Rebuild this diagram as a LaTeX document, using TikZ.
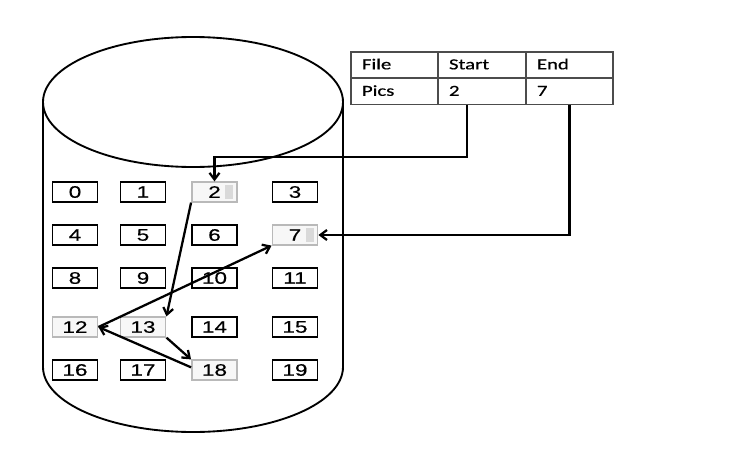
\documentclass[tikz,border=0pt]{standalone}
\usepackage{fontspec}
\setmainfont{Liberation Sans}
\newfontfamily\numfont[FakeStretch=1.35,FakeBold=0.5]{Liberation Sans}
\newfontfamily\tblfont[FakeStretch=1.35,FakeBold=0.6]{Carlito}
\usetikzlibrary{arrows.meta}
\begin{document}
\begin{tikzpicture}[x=0.75pt,y=-0.75pt,
  blk/.style={draw, line width=1.4pt, minimum width=33.75pt, minimum height=14.5pt, inner sep=0pt, font=\numfont\fontsize{12.5}{13}\selectfont},
  hl/.style={draw=gray!55, fill=gray!6},
  smudge/.style={path picture={\fill[gray!30] ([xshift=-9pt,yshift=-5pt]path picture bounding box.east) rectangle ([xshift=-3pt,yshift=5pt]path picture bounding box.east);}},
  cell/.style={draw=black!70, line width=1pt, minimum height=19.5pt, inner xsep=8.25pt, align=left, text height=8.5pt, text depth=2pt, font=\tblfont\fontsize{11.5}{12}\selectfont},
  c1/.style={cell, text width=48.75pt},
  c2/.style={cell, text width=49.5pt},
  c3/.style={cell, text width=48.75pt},
  arr/.style={line width=1.7pt, -{Straight Barb[length=5pt,width=7.5pt]}},
  cyl/.style={line width=1.4pt}
]
\useasboundingbox (0,0) rectangle (749,450);
% cylinder
\draw[cyl] (193,102) ellipse [x radius=112.5pt, y radius=48.75pt];
\draw[cyl] (43,102) -- (43,367) arc[start angle=180, end angle=360, x radius=112.5pt, y radius=48.75pt] -- (343,102);
% blocks
\foreach \n/\x/\y in {0/75/192,1/143/192,3/295/192,
                      4/75/235,5/143/235,6/214.5/235,
                      8/75/278,9/143/278,10/214.5/278,11/295/278,
                      14/214.5/327,15/295/327,
                      16/75/370,17/143/370,19/295/370}
  \node[blk] (b\n) at (\x,\y) {\n};
\node[blk,hl,smudge] (b2) at (214.5,192) {2\hspace{6pt}};
\node[blk,hl,smudge] (b7) at (295,235) {7\hspace{6pt}};
\node[blk,hl] (b12) at (75,327) {12};
\node[blk,hl] (b13) at (143,327) {13};
\node[blk,hl] (b18) at (214.5,370) {18};
% table
\node[c1] (f1) at (394.5,65) {File};
\node[c2] (s1) at (482,65) {Start};
\node[c3] (e1) at (569.5,65) {End};
\node[c1] (f2) at (394.5,91.5) {Pics};
\node[c2] (s2) at (482,91.5) {2};
\node[c3] (e2) at (569.5,91.5) {7};
% pointers
\draw[arr] ([xshift=-11.25pt]s2.south) -- ++(0,52) -| (b2.north);
\draw[arr] (e2.south) |- (b7.east);
% chain
\draw[arr] (b2.south west) -- (b13.north east);
\draw[arr] (b13.south east) -- (b18.north west);
\draw[arr] ([yshift=2pt]b18.west) -- (b12.east);
\draw[arr] (b12.east) -- (b7.south west);
\end{tikzpicture}
\end{document}
